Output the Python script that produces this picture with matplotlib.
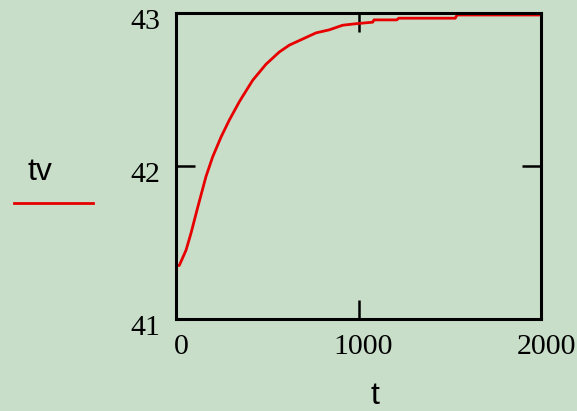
import matplotlib
matplotlib.use("Agg")
import matplotlib.pyplot as plt
import matplotlib.transforms as mtransforms
from matplotlib.lines import Line2D

# Temperature tv versus time t
t_vals = [0, 18, 55, 82, 119, 164, 201, 247, 292, 347, 365, 420, 493, 566, 621,
          694, 767, 840, 913, 986, 1078, 1085, 1210, 1220, 1530, 1540, 2000]
tv_vals = [41.35, 41.35, 41.45, 41.56, 41.73, 41.93, 42.06, 42.19, 42.30, 42.42,
           42.455, 42.56, 42.665, 42.745, 42.79, 42.83, 42.87, 42.89, 42.92, 42.93,
           42.94, 42.955, 42.955, 42.966, 42.966, 42.987, 42.987]

x_ticks = [0, 1000, 2000]
y_ticks = [41, 42, 43]

bg = "#c9dec9"
fig = plt.figure(figsize=(5.77, 4.11), dpi=100, facecolor=bg)
ax = fig.add_axes([176 / 577, 1 - 319 / 411, 365 / 577, 306 / 411])
ax.set_facecolor(bg)

ax.plot(t_vals, tv_vals, color="#e60000", lw=2.0)
ax.set_xlim(0, 2000)
ax.set_ylim(41, 43)

ax.set_xticks(x_ticks)
ax.set_yticks(y_ticks)
ax.tick_params(direction="in", length=14, width=1.8, top=True, right=True,
               labelsize=21.5, pad=11, colors="black")
for lab in ax.get_xticklabels() + ax.get_yticklabels():
    lab.set_fontfamily("Liberation Serif")
for spine in ax.spines.values():
    spine.set_linewidth(2.2)

dx = mtransforms.ScaledTranslation(5 / 100, 0, fig.dpi_scale_trans)
for lab in ax.get_xticklabels():
    lab.set_transform(lab.get_transform() + dx)
dy = mtransforms.ScaledTranslation(0, -6 / 100, fig.dpi_scale_trans)
for lab in ax.get_yticklabels():
    lab.set_transform(lab.get_transform() + dy)

# Legend-style label on the left and axis label below
fig.text(40 / 577, 1 - 172 / 411, "tv", fontsize=23, family="Liberation Sans",
         ha="center", va="center")
fig.add_artist(Line2D([14 / 577, 93 / 577], [1 - 203 / 411, 1 - 203 / 411],
                      color="#e60000", lw=2.0, transform=fig.transFigure))
fig.text(375 / 577, 1 - 396 / 411, "t", fontsize=23, family="Liberation Sans",
         ha="center", va="center")

fig.savefig("out.png", dpi=100, facecolor=bg)
